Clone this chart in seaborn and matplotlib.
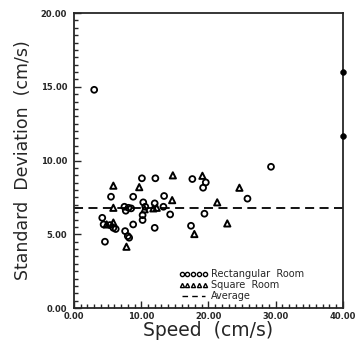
import pandas as pd
import seaborn as sns
import matplotlib.pyplot as plt
from matplotlib.lines import Line2D
from matplotlib.ticker import MultipleLocator, FormatStrFormatter

# values
rect_speed = [3.0, 5.5, 8.8, 10.1, 12.1, 13.4, 7.5, 8.1, 7.7, 8.5, 10.3, 10.6,
              12.0, 13.3, 14.3, 4.2, 4.4, 5.35, 5.85, 6.2, 4.6, 10.2, 10.2, 8.8,
              7.6, 8.0, 8.2, 12.0, 17.6, 19.6, 19.2, 25.8, 19.4, 17.4, 29.3]
rect_sd = [14.8, 7.55, 7.55, 8.8, 8.8, 7.6, 6.87, 6.8, 6.6, 6.76, 7.17, 6.87,
           7.1, 6.87, 6.35, 6.12, 5.67, 5.63, 5.44, 5.36, 4.5, 6.3, 5.97, 5.67,
           5.22, 4.88, 4.77, 5.44, 8.75, 8.52, 8.16, 7.42, 6.4, 5.58, 9.58]

square_speed = [5.85, 9.7, 14.7, 19.1, 24.6, 14.6, 21.3, 5.85, 11.8, 12.3,
                10.5, 4.86, 5.85, 7.8, 17.9, 22.8]
square_sd = [8.3, 8.2, 9.0, 8.97, 8.16, 7.32, 7.17, 6.8, 6.76, 6.8,
             6.7, 5.67, 5.8, 4.16, 5.02, 5.74]

edge_speed = [40.0, 40.0]
edge_sd = [16.0, 11.7]

average_sd = 6.8

rect = pd.DataFrame({'speed': rect_speed, 'sd': rect_sd})
square = pd.DataFrame({'speed': square_speed, 'sd': square_sd})
edge = pd.DataFrame({'speed': edge_speed, 'sd': edge_sd})

sns.set_style('ticks')
plt.rcParams['font.family'] = ['DejaVu Sans']

fig = plt.figure(figsize=(3.55, 3.45), dpi=100)
ax = fig.add_axes([0.2085, 0.107, 0.7575, 0.855])

sns.scatterplot(x='speed', y='sd', data=rect, marker='o', s=18,
                facecolors='none', edgecolor='black', linewidth=1.3, ax=ax)
sns.scatterplot(x='speed', y='sd', data=square, marker='^', s=20,
                facecolors='none', edgecolor='black', linewidth=1.4, ax=ax)
sns.scatterplot(x='speed', y='sd', data=edge, marker='o', s=18,
                color='black', edgecolor='black', ax=ax, clip_on=False, zorder=5)
ax.axhline(average_sd, color='black', lw=1.3, dashes=(5, 3))

ax.set_xlim(0, 40)
ax.set_ylim(0, 20)
ax.xaxis.set_major_locator(MultipleLocator(10))
ax.xaxis.set_minor_locator(MultipleLocator(1))
ax.yaxis.set_major_locator(MultipleLocator(5))
ax.yaxis.set_minor_locator(MultipleLocator(0.5))
ax.xaxis.set_major_formatter(FormatStrFormatter('%.2f'))
ax.yaxis.set_major_formatter(FormatStrFormatter('%.2f'))
ax.tick_params(which='both', direction='in', width=1.0, labelsize=6)
ax.tick_params(axis='y', pad=5)
ax.tick_params(axis='x', pad=3)
ax.tick_params(which='major', length=5)
ax.tick_params(which='minor', length=3)
for lab in ax.get_xticklabels() + ax.get_yticklabels():
    lab.set_fontweight('bold')
for sp in ax.spines.values():
    sp.set_visible(True)
    sp.set_linewidth(1.3)

ax.set_xlabel('Speed  (cm/s)', fontsize=13.5, labelpad=0)
ax.set_ylabel('Standard  Deviation  (cm/s)', fontsize=12.5, labelpad=6)

handles = [
    Line2D([], [], ls='none', marker='o', ms=3, mfc='none', mec='black', mew=1.0),
    Line2D([], [], ls='none', marker='^', ms=3, mfc='none', mec='black', mew=1.0),
    Line2D([], [], color='black', lw=1.0, dashes=(4, 3)),
]
ax.legend(handles, ['Rectangular  Room', 'Square  Room', 'Average'],
          numpoints=5, loc='lower right', bbox_to_anchor=(0.88, 0.0),
          frameon=False, fontsize=7, handlelength=3.0, handletextpad=0.3,
          labelspacing=0.1, borderpad=0.2)

fig.savefig('out.png', dpi=100)
